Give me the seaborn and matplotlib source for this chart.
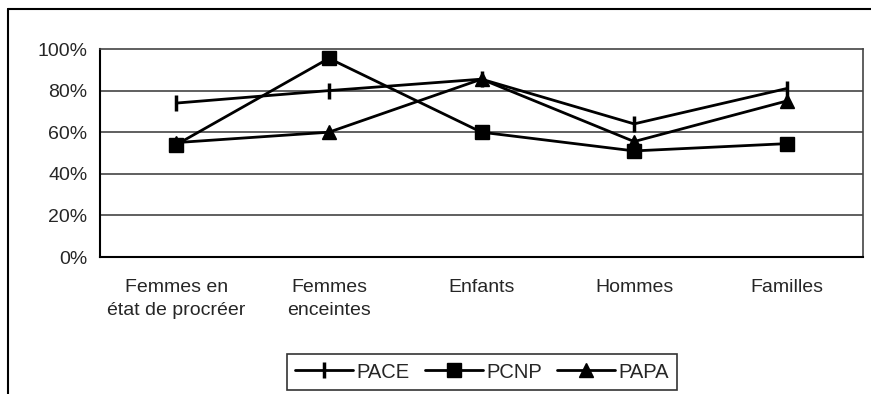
import matplotlib
matplotlib.use("Agg")
import matplotlib.pyplot as plt
import seaborn as sns
import pandas as pd
from matplotlib.ticker import PercentFormatter, FixedLocator
from matplotlib.lines import Line2D

categories = ["Femmes en\nétat de procréer", "Femmes\nenceintes", "Enfants", "Hommes", "Familles"]
series_names = ["PACE", "PCNP", "PAPA"]
pace = [0.74, 0.80, 0.855, 0.64, 0.81]
pcnp = [0.54, 0.955, 0.60, 0.51, 0.545]
papa = [0.55, 0.60, 0.855, 0.555, 0.75]
y_ticks = [0, 0.2, 0.4, 0.6, 0.8, 1.0]

rows = []
for name, vals in zip(series_names, [pace, pcnp, papa]):
    for i, (c, v) in enumerate(zip(categories, vals)):
        rows.append({"pos": i, "cat": c, "val": v, "series": name})
df = pd.DataFrame(rows)

sns.set_style("white")
plt.rcParams["font.family"] = ["Liberation Sans", "DejaVu Sans"]

fig = plt.figure(figsize=(8.71, 3.94), dpi=100)
ax = fig.add_axes([100/871, 1-257/394, (863-100)/871, (257-49)/394])

styles = {
    "PACE": dict(marker="|", markersize=12, markeredgewidth=2.5),
    "PCNP": dict(marker="s", markersize=9.5, markeredgewidth=1),
    "PAPA": dict(marker="^", markersize=10, markeredgewidth=1),
}
for name in series_names:
    sub = df[df["series"] == name]
    sns.lineplot(data=sub, x="pos", y="val", color="black", linewidth=2,
                 markerfacecolor="black", markeredgecolor="black",
                 ax=ax, legend=False, zorder=3, **styles[name])

ax.set_xlim(-0.5, len(categories) - 0.5)
ax.set_ylim(0, 1.0)
ax.set_yticks(y_ticks)
ax.yaxis.set_major_formatter(PercentFormatter(1.0, decimals=0))
ax.set_xticks(range(len(categories)))
ax.set_xticklabels(categories, fontsize=14, linespacing=1.45)
ax.xaxis.set_minor_locator(FixedLocator([i - 0.5 for i in range(len(categories) + 1)]))
ax.tick_params(axis="x", which="major", length=0, pad=16)
ax.tick_params(axis="x", which="minor", length=5, width=1.2, color="black", direction="out")
ax.tick_params(axis="y", length=5, width=1.2, color="black", direction="out", labelsize=14, pad=4)
ax.set_xlabel("")
ax.set_ylabel("")

for y in y_ticks[1:-1]:
    ax.axhline(y, color="#444444", linewidth=1.2, zorder=1)

for s in ["top", "right"]:
    ax.spines[s].set_color("#444444")
    ax.spines[s].set_linewidth(1.2)
for s in ["left", "bottom"]:
    ax.spines[s].set_color("black")
    ax.spines[s].set_linewidth(1.5)

handles = [Line2D([], [], color="black", lw=2, markerfacecolor="black",
                  markeredgecolor="black", **styles[n]) for n in series_names]
leg = fig.legend(handles, series_names, loc="center", ncol=3,
                 bbox_to_anchor=(482/871, 1-372/394), fontsize=14.5,
                 frameon=True, fancybox=False, edgecolor="black",
                 handlelength=2.9, handletextpad=0.15, columnspacing=0.75,
                 borderpad=0.4, borderaxespad=0)
leg.get_frame().set_linewidth(1.2)

# outer chart frame
fig.add_artist(Line2D([8/871, 8/871], [0, 1-9/394], color="black", lw=1.5, transform=fig.transFigure))
fig.add_artist(Line2D([8/871, 1], [1-9/394, 1-9/394], color="black", lw=1.5, transform=fig.transFigure))

fig.savefig("out.png", dpi=100)
